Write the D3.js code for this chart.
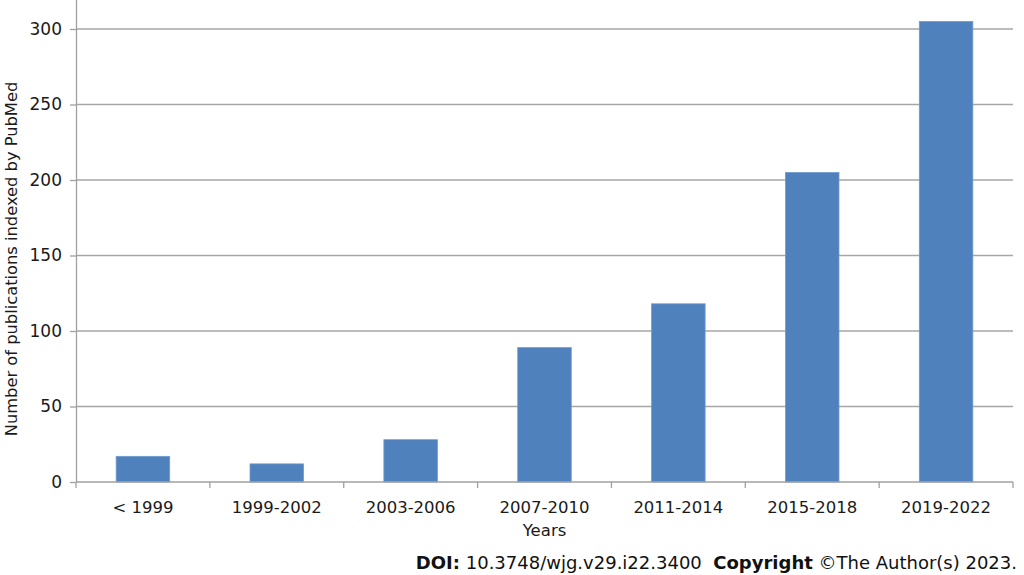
<!DOCTYPE html>
<html>
<head>
<meta charset="utf-8">
<script src="https://cdn.jsdelivr.net/npm/d3@7"></script>
<style>
  body { margin: 0; background: #fff; }
  text { font-family: "DejaVu Sans", Verdana, sans-serif; fill: #1a1a1a; }
</style>
</head>
<body>
<div id="chart"></div>
<script>
// Dados
var categories = ['< 1999', '1999-2002', '2003-2006', '2007-2010', '2011-2014', '2015-2018', '2019-2022'];
var publications = [17, 12, 28, 89, 118, 205, 305];
var yTicks = [0, 50, 100, 150, 200, 250, 300];

// Tamanho do svg
var w = 1024, h = 575;
var left = 76, right = 1013, bottom = 482;

var svg = d3.select('#chart')
  .append('svg')
  .attr('width', w)
  .attr('height', h);

// Escalas
var x = d3.scaleBand()
  .domain(categories)
  .range([left, right])
  .paddingInner(0.6)
  .paddingOuter(0.3);

var xEdge = d3.scaleLinear()
  .domain([0, categories.length])
  .range([left, right]);

var y = d3.scaleLinear()
  .domain([0, 320])
  .range([bottom, bottom - 320 * 1.51]);

// Linhas de grade
svg.selectAll('.grid')
  .data(yTicks.filter(function(d) { return d > 0; }))
  .enter()
  .append('line')
  .attr('x1', left)
  .attr('x2', right)
  .attr('y1', function(d) { return y(d); })
  .attr('y2', function(d) { return y(d); })
  .style('stroke', '#a6a6a6')
  .style('stroke-width', 1.3);

// Barras
svg.selectAll('.bar')
  .data(publications)
  .enter()
  .append('rect')
  .attr('x', function(d, i) { return x(categories[i]); })
  .attr('width', x.bandwidth())
  .attr('y', function(d) { return y(d); })
  .attr('height', function(d) { return y(0) - y(d); })
  .attr('fill', '#4f81bd')
  .attr('stroke', '#6f9bd0')
  .attr('stroke-width', 0.8);

// Eixo y
var yAxis = d3.axisLeft(y)
  .tickValues(yTicks)
  .tickSize(6)
  .tickPadding(8)
  .tickSizeOuter(0);

var gy = svg.append('g')
  .attr('transform', 'translate(' + left + ',0)')
  .call(yAxis);
gy.selectAll('line, path').style('stroke', '#a0a0a0').style('stroke-width', 1.3);
gy.selectAll('text').style('font-size', '17px').style('fill', '#1a1a1a').attr('font-family', null);

// Eixo x
svg.append('line')
  .attr('x1', left)
  .attr('x2', right)
  .attr('y1', y(0))
  .attr('y2', y(0))
  .style('stroke', '#a0a0a0')
  .style('stroke-width', 1.3);

svg.selectAll('.xtick')
  .data(d3.range(categories.length + 1))
  .enter()
  .append('line')
  .attr('x1', function(d) { return xEdge(d); })
  .attr('x2', function(d) { return xEdge(d); })
  .attr('y1', y(0))
  .attr('y2', y(0) + 6)
  .style('stroke', '#a0a0a0')
  .style('stroke-width', 1.3);

svg.selectAll('.xlabel')
  .data(categories)
  .enter()
  .append('text')
  .attr('x', function(d) { return x(d) + x.bandwidth() / 2; })
  .attr('y', 513)
  .attr('text-anchor', 'middle')
  .style('font-size', '16.5px')
  .text(function(d) { return d; });

// Titulos dos eixos
svg.append('text')
  .attr('x', (left + right) / 2)
  .attr('y', 536)
  .attr('text-anchor', 'middle')
  .style('font-size', '16.5px')
  .text('Years');

svg.append('text')
  .attr('transform', 'translate(17,259) rotate(-90)')
  .attr('text-anchor', 'middle')
  .style('font-size', '16.3px')
  .text('Number of publications indexed by PubMed');

// Rodape
var foot = svg.append('text')
  .attr('x', 1017)
  .attr('y', 569)
  .attr('text-anchor', 'end')
  .style('font-size', '18px')
  .style('white-space', 'pre')
  .style('fill', '#111');
foot.append('tspan').style('font-weight', 'bold').text('DOI:');
foot.append('tspan').text(' 10.3748/wjg.v29.i22.3400  ');
foot.append('tspan').style('font-weight', 'bold').text('Copyright');
foot.append('tspan').text(' \u00A9The Author(s) 2023.');
</script>
</body>
</html>
